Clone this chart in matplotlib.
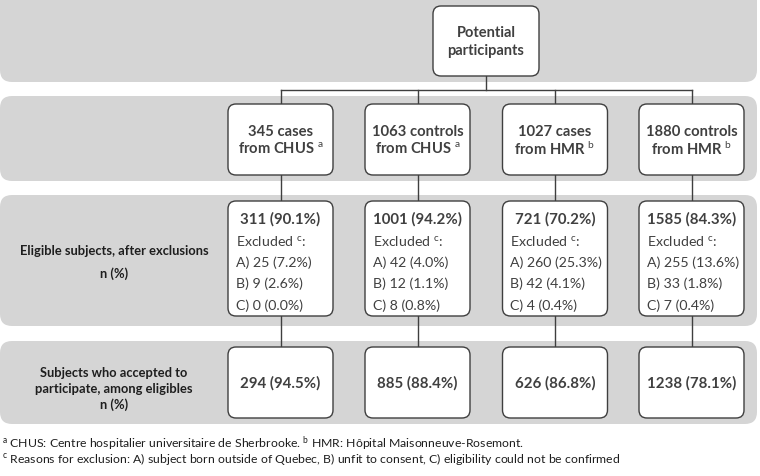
import matplotlib
matplotlib.use("Agg")
import matplotlib.pyplot as plt
from matplotlib.patches import FancyBboxPatch

plt.rcParams["mathtext.fontset"] = "custom"
plt.rcParams["mathtext.rm"] = "Lato"
plt.rcParams["mathtext.it"] = "Lato:italic"
plt.rcParams["mathtext.bf"] = "Lato:bold"

# data
groups = ["cases", "controls", "cases", "controls"]
sites = ["CHUS", "CHUS", "HMR", "HMR"]
site_notes = ["a", "a", "b", "b"]
n_start = [345, 1063, 1027, 1880]
eligible_n = [311, 1001, 721, 1585]
eligible_pct = [90.1, 94.2, 70.2, 84.3]
excl_A_n = [25, 42, 260, 255]
excl_A_pct = [7.2, 4.0, 25.3, 13.6]
excl_B_n = [9, 12, 42, 33]
excl_B_pct = [2.6, 1.1, 4.1, 1.8]
excl_C_n = [0, 8, 4, 7]
excl_C_pct = [0.0, 0.8, 0.4, 0.4]
accepted_n = [294, 885, 626, 1238]
accepted_pct = [94.5, 88.4, 86.8, 78.1]

row_labels = ["", "", "Eligible subjects, after exclusions\nn (%)",
              "Subjects who accepted to\nparticipate, among eligibles\nn (%)"]
footnotes = [r"$^{\mathrm{a}}$ CHUS: Centre hospitalier universitaire de Sherbrooke. $^{\mathrm{b}}$ HMR: Hôpital Maisonneuve-Rosemont.",
             r"$^{\mathrm{c}}$ Reasons for exclusion: A) subject born outside of Quebec, B) unfit to consent, C) eligibility could not be confirmed"]

# layout (pixels)
FAM = ["Lato", "DejaVu Sans"]
BAND = "#d5d5d5"
EDGE = "#3f3f3f"
TXT = "#404040"
col_x = [280.5, 417.5, 555, 691.5]
box_w = 105
bands = [(-20, 83), (97, 182), (196, 327), (342, 425)]
rows = [(105, 176), (202, 317), (348, 419)]

fig = plt.figure(figsize=(7.6, 4.77), dpi=100)
ax = fig.add_axes([0, 0, 1, 1])
ax.set_xlim(0, 760)
ax.set_ylim(477, 0)
ax.axis("off")


def rbox(x0, y0, x1, y1, r, fc, ec, lw, z):
    ax.add_patch(FancyBboxPatch((x0, y0), x1 - x0, y1 - y0,
                                boxstyle="round,pad=0,rounding_size=%g" % r,
                                fc=fc, ec=ec, lw=lw, zorder=z))


for y0, y1 in bands:
    rbox(0, y0, 757, y1, 12, BAND, "none", 0, 0)

# connectors
lc = dict(color=EDGE, lw=1.0, zorder=1)
ax.plot([486, 486], [77, 91], **lc)
ax.plot([col_x[0], col_x[-1]], [91, 91], **lc)
for cx in col_x:
    ax.plot([cx, cx], [91, 348], **lc)

# top box
rbox(433, 7, 539, 77, 8, "white", EDGE, 1.0, 2)
ax.text(486, 42, "Potential\nparticipants", ha="center", va="center",
        fontsize=10.5, fontweight="bold", color=TXT, family=FAM, linespacing=1.45, zorder=3)

for i, cx in enumerate(col_x):
    x0 = cx - box_w / 2
    for (y0, y1) in rows:
        rbox(x0, y0, x0 + box_w, y1, 8, "white", EDGE, 1.0, 2)
    ax.text(cx, 132, "%d %s" % (n_start[i], groups[i]),
            ha="center", va="center", fontsize=10.6, fontweight="bold", color=TXT,
            family=FAM, zorder=3)
    ax.text(cx, 149.5, r"from %s $^{\mathrm{%s}}$" % (sites[i], site_notes[i]),
            ha="center", va="center", fontsize=10.6, fontweight="bold", color=TXT,
            family=FAM, zorder=3)
    ax.text(cx, 219, "%d (%.1f%%)" % (eligible_n[i], eligible_pct[i]), ha="center", va="center",
            fontsize=10.8, fontweight="bold", color=TXT, family=FAM, zorder=3)
    lines = [r"Excluded $^{\mathrm{c}}$:",
             "A) %d (%.1f%%)" % (excl_A_n[i], excl_A_pct[i]),
             "B) %d (%.1f%%)" % (excl_B_n[i], excl_B_pct[i]),
             "C) %d (%.1f%%)" % (excl_C_n[i], excl_C_pct[i])]
    for k, s in enumerate(lines):
        ax.text(x0 + 8, 241.5 + k * 21.3, s, ha="left", va="center",
                fontsize=10.2, color=TXT, family=FAM, zorder=3)
    ax.text(cx, 383.5, "%d (%.1f%%)" % (accepted_n[i], accepted_pct[i]), ha="center", va="center",
            fontsize=10.8, fontweight="bold", color=TXT, family=FAM, zorder=3)

ax.text(114, 262.5, row_labels[2], ha="center", va="center", fontsize=9.3, fontweight="bold",
        color="#1e1e1e", family=FAM, linespacing=2.05, zorder=3)
ax.text(114, 389, row_labels[3], ha="center", va="center", fontsize=9.3, fontweight="bold",
        color="#1e1e1e", family=FAM, linespacing=1.35, zorder=3)

for k, s in enumerate(footnotes):
    ax.text(2, 443 + k * 16, s, ha="left", va="center", fontsize=8.8, color="#1e1e1e",
            family=FAM, zorder=3)

fig.savefig("out.png", dpi=100)
